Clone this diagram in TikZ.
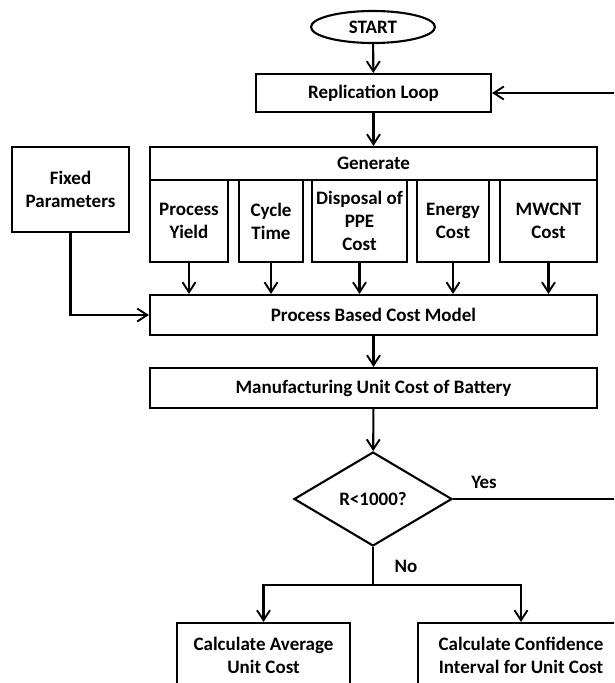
\documentclass[tikz,border=0pt]{standalone}
\usepackage{fontspec}
\setmainfont{Carlito}
\usepackage{tikz}
\usetikzlibrary{shapes.geometric}
\usetikzlibrary{arrows.meta}
\usetikzlibrary{positioning}
\tikzstyle{flowbox}=[draw=black, line width=2.1pt, rectangle, inner sep=0pt, align=center, font=\fontsize{19}{23}\selectfont\bfseries]
\tikzstyle{flowline}=[line width=2.1pt, -{Straight Barb[length=10pt, width=13pt, line width=1.9pt]}]
\tikzstyle{plainline}=[line width=2.1pt]
\tikzstyle{flowtext}=[font=\fontsize{19}{23}\selectfont\bfseries]

\begin{document}
\begin{tikzpicture}[x=1pt, y=-1pt]
          \useasboundingbox (0,0) rectangle (614,683);
          \clip (0,0) rectangle (614,683);
          \node[flowbox, ellipse, minimum width=124pt, minimum height=32pt] (start) at (373,27){START};
          \node[flowbox, minimum width=235pt, minimum height=38pt] (repl) at (373.5,93){Replication Loop};
          \node[flowbox, minimum width=447pt, minimum height=33pt] (gen) at (373.5,163.5){Generate};
          \node[flowbox, minimum width=78pt, minimum height=82pt] (pyield) at (189,221){Process\\Yield};
          \node[flowbox, minimum width=64pt, minimum height=82pt] (ctime) at (271,221){Cycle\\Time};
          \node[flowbox, minimum width=95pt, minimum height=82pt] (disp) at (359.5,221){Disposal of\\PPE\\Cost};
          \node[flowbox, minimum width=72pt, minimum height=82pt] (energy) at (453,221){Energy\\Cost};
          \node[flowbox, minimum width=97pt, minimum height=82pt] (mwcnt) at (548.5,221){MWCNT\\Cost};
          \node[flowbox, minimum width=117pt, minimum height=85pt] (fixed) at (70.5,189.5){Fixed\\Parameters};
          \node[flowbox, minimum width=447pt, minimum height=40pt] (model) at (373.5,315){Process Based Cost Model};
          \node[flowbox, minimum width=447pt, minimum height=40pt] (unitcost) at (373.5,388){Manufacturing Unit Cost of Battery};
          \node[flowbox, diamond, minimum width=158pt, minimum height=94pt] (check) at (373,499){R<1000?};
          \node[flowbox, minimum width=173pt, minimum height=65pt] (avg) at (263.5,655.5){Calculate Average\\Unit Cost};
          \node[flowbox, minimum width=206pt, minimum height=65pt] (conf) at (521,655.5){Calculate Confidence\\Interval for Unit Cost};
          \node[flowtext] (yes) at (484,482){Yes};
          \node[flowtext] (no) at (406,566){No};
          \coordinate (loopend) at (620,499);
          \coordinate (split) at (373,585);
          \draw[flowline](start) -- (repl);
          \draw[flowline](repl) -- (gen);
          \draw[flowline](check.east) -- (loopend) |- (repl.east);
          \draw[flowline](pyield.south) -- (pyield.south |- model.north);
          \draw[flowline](ctime.south) -- (ctime.south |- model.north);
          \draw[flowline](disp.south) -- (disp.south |- model.north);
          \draw[flowline](energy.south) -- (energy.south |- model.north);
          \draw[flowline](mwcnt.south) -- (mwcnt.south |- model.north);
          \draw[flowline](fixed.south) |- (model.west);
          \draw[flowline](model) -- (unitcost);
          \draw[flowline](unitcost) -- (check);
          \draw[plainline](check.south) -- (split);
          \draw[flowline](split) -| (avg.north);
          \draw[flowline](split) -| (conf.north);
        \end{tikzpicture}
\end{document}
